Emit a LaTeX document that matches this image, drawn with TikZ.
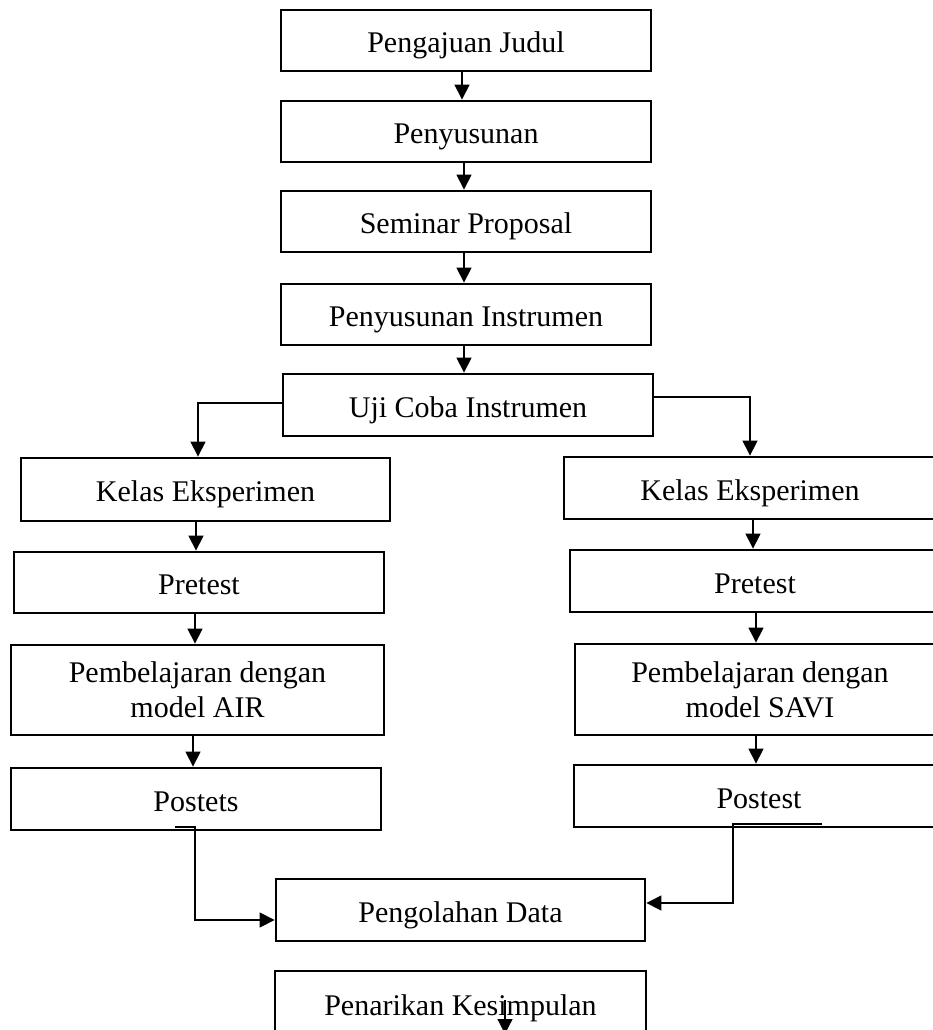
\documentclass[tikz,border=0pt]{standalone}
\usepackage{fontspec}
\setmainfont{Liberation Serif}
\usetikzlibrary{arrows.meta}
\begin{document}
\begin{tikzpicture}[x=1pt,y=-1pt,
  box/.style={draw,line width=2.8pt,inner sep=0pt,align=center,font=\fontsize{30}{35}\selectfont},
  one/.style={box,text height=27pt,text depth=3pt},
  arr/.style={line width=1.2pt,-{Triangle[length=15pt,width=15pt]}}]
\useasboundingbox (0,0) rectangle (933,1030);
\clip (0,0) rectangle (933,1030);
% main column
\node[one,minimum width=370pt,minimum height=61pt] (A) at (466,40.5) {Pengajuan Judul};
\node[one,minimum width=370pt,minimum height=61pt] (B) at (466,131.5) {Penyusunan};
\node[one,minimum width=370pt,minimum height=61pt] (C) at (466,221.5) {Seminar Proposal};
\node[one,minimum width=370pt,minimum height=61pt] (D) at (466,314.5) {Penyusunan Instrumen};
\node[one,minimum width=370pt,minimum height=62pt] (E) at (468,405) {Uji Coba Instrumen};
% left column
\node[one,minimum width=369pt,minimum height=63pt] (L1) at (205.5,489.5) {Kelas Eksperimen};
\node[one,minimum width=370pt,minimum height=61pt] (L2) at (199,582.5) {Pretest};
\node[box,minimum width=373pt,minimum height=90pt] (L3) at (197.5,690) {Pembelajaran dengan\\model AIR};
\node[one,minimum width=370pt,minimum height=62pt] (L4) at (196,799) {Postets};
% right column
\node[one,minimum width=372pt,minimum height=62pt] (R1) at (750,488) {Kelas Eksperimen};
\node[one,minimum width=370pt,minimum height=62pt] (R2) at (755,581) {Pretest};
\node[box,minimum width=370pt,minimum height=91pt] (R3) at (760,689.5) {Pembelajaran dengan\\model SAVI};
\node[one,minimum width=370pt,minimum height=62pt] (R4) at (759,796) {Postest};
% bottom
\node[one,minimum width=369pt,minimum height=62pt] (P) at (460.5,910) {Pengolahan Data};
\node[one,minimum width=371pt,minimum height=64pt] (Q) at (460.5,1003) {Penarikan Kesimpulan};
% connectors main column
\draw[arr] ([xshift=-4]A.south) -- ([xshift=-4]B.north);
\draw[arr] ([xshift=-2]B.south) -- ([xshift=-2]C.north);
\draw[arr] ([xshift=-2]C.south) -- ([xshift=-2]D.north);
\draw[arr] ([xshift=-2]D.south) -- ([xshift=-4]E.north);
% split
\draw[arr] ([yshift=2]E.west) -| ([xshift=-7.5]L1.north);
\draw[arr] ([yshift=8]E.east) -| (R1.north);
% left column
\draw[arr] ([xshift=-9.5]L1.south) -- ([xshift=-3]L2.north);
\draw[arr] ([xshift=-4]L2.south) -- ([xshift=-2.5]L3.north);
\draw[arr] ([xshift=-4.5]L3.south) -- ([xshift=-3]L4.north);
% right column
\draw[arr] ([xshift=3]R1.south) -- ([xshift=-2]R2.north);
\draw[arr] ([xshift=1]R2.south) -- ([xshift=-4]R3.north);
\draw[arr] ([xshift=-4]R3.south) -- ([xshift=-3]R4.north);
% to Pengolahan Data
\coordinate (s1) at (175,827);
\coordinate (t1) at (195,827);
\draw[arr] (s1) -- (t1) |- ([yshift=-10]P.west);
\coordinate (s2) at (822,824);
\coordinate (t2) at (733,824);
\draw[arr] (s2) -- (t2) |- ([yshift=7]P.east);
% stray arrow inside last box
\coordinate (q1) at (505,1000);
\coordinate (q2) at (505,1034);
\draw[arr] (q1) -- (q2);
\end{tikzpicture}
\end{document}
